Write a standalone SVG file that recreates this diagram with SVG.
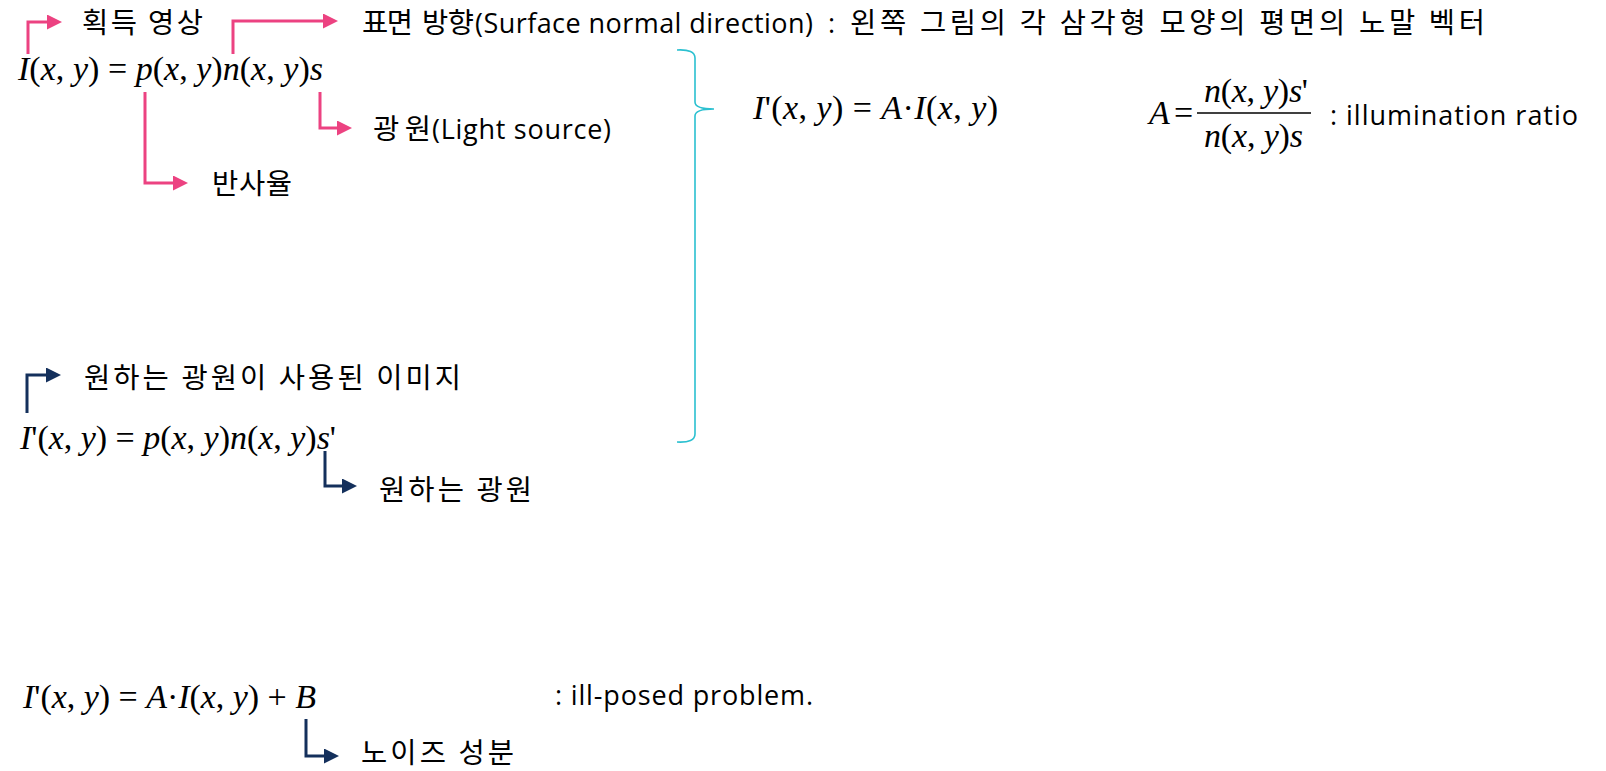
<svg xmlns="http://www.w3.org/2000/svg" width="1606" height="771" viewBox="0 0 1606 771">
<style>
.lbl{font-family:"Open Sans","Noto Sans CJK KR",sans-serif;font-size:27px;fill:#000}
.k{font-family:"Noto Sans CJK KR",sans-serif;font-size:28.5px;fill:#000}
.m{font-family:"Liberation Serif","Times New Roman",serif;font-size:34px;fill:#000}
.i{font-style:italic}
.pk{fill:none;stroke:#EC4281;stroke-width:3}
.nv{fill:none;stroke:#14305C;stroke-width:3}
</style>
<defs>
<marker id="ap" markerUnits="userSpaceOnUse" markerWidth="16" markerHeight="16" refX="2" refY="7.5" orient="auto"><path d="M0,0 L15,7.5 L0,15 z" fill="#EC4281"/></marker>
<marker id="an" markerUnits="userSpaceOnUse" markerWidth="16" markerHeight="16" refX="2" refY="7.5" orient="auto"><path d="M0,0 L15,7.5 L0,15 z" fill="#14305C"/></marker>
</defs>
<rect width="1606" height="771" fill="#fff"/>
<g id="connectors">
<path class="pk" d="M28,54 V22 H49" marker-end="url(#ap)"/>
<path class="pk" d="M233,54 V21 H325" marker-end="url(#ap)"/>
<path class="pk" d="M320,92 V128 H339" marker-end="url(#ap)"/>
<path class="pk" d="M145,92 V183 H175" marker-end="url(#ap)"/>
<path class="nv" d="M27,413 V375 H48" marker-end="url(#an)"/>
<path class="nv" d="M325,451 V486 H344" marker-end="url(#an)"/>
<path class="nv" d="M306,719 V756 H326" marker-end="url(#an)"/>
<path d="M677,50 Q695,49 695,58 V102 Q695,109 714,109 Q695,109 695,116 V434 Q695,443 677,442" fill="none" stroke="#2BC0D0" stroke-width="1.6"/>
</g>
<g id="eq1">
<text class="m" x="18" y="80" textLength="305" lengthAdjust="spacing" font-size="35"><tspan class="i">I</tspan>(<tspan class="i">x</tspan>, <tspan class="i">y</tspan>) = <tspan class="i">p</tspan>(<tspan class="i">x</tspan>, <tspan class="i">y</tspan>)<tspan class="i">n</tspan>(<tspan class="i">x</tspan>, <tspan class="i">y</tspan>)<tspan class="i">s</tspan></text>
</g>
<g id="lbl-acquired"><text class="k" x="82" y="33" textLength="121" lengthAdjust="spacing">획득 영상</text></g>
<g id="lbl-normal">
<text class="k" x="362" y="33" textLength="51" lengthAdjust="spacing" font-size="27">표면</text>
<text class="k" x="422" y="33" textLength="52" lengthAdjust="spacing" font-size="27">방향</text>
<text class="lbl" x="475" y="33" textLength="338" lengthAdjust="spacing">(Surface normal direction)</text>
<text class="lbl" x="828" y="33">:</text>
<text class="k" x="850" y="33" textLength="635" lengthAdjust="spacing">왼쪽 그림의 각 삼각형 모양의 평면의 노말 벡터</text>
</g>
<g id="lbl-light">
<text class="k" x="373" y="139" textLength="58" lengthAdjust="spacing">광원</text>
<text class="lbl" x="432" y="139" textLength="179" lengthAdjust="spacing">(Light source)</text>
</g>
<g id="lbl-reflect"><text class="k" x="212" y="194" textLength="80" lengthAdjust="spacing">반사율</text></g>
<g id="eq2">
<text class="m" x="20" y="449" textLength="316" lengthAdjust="spacing" font-size="35"><tspan class="i">I</tspan>'(<tspan class="i">x</tspan>, <tspan class="i">y</tspan>) = <tspan class="i">p</tspan>(<tspan class="i">x</tspan>, <tspan class="i">y</tspan>)<tspan class="i">n</tspan>(<tspan class="i">x</tspan>, <tspan class="i">y</tspan>)<tspan class="i">s</tspan>'</text>
</g>
<g id="lbl-desired-img"><text class="k" x="84" y="388" textLength="377" lengthAdjust="spacing">원하는 광원이 사용된 이미지</text></g>
<g id="lbl-desired-light"><text class="k" x="379" y="500" textLength="153" lengthAdjust="spacing">원하는 광원</text></g>
<g id="eq3">
<text class="m" x="753" y="119" textLength="245" lengthAdjust="spacing" font-size="33"><tspan class="i">I</tspan>'(<tspan class="i">x</tspan>, <tspan class="i">y</tspan>) = <tspan class="i">A</tspan>·<tspan class="i">I</tspan>(<tspan class="i">x</tspan>, <tspan class="i">y</tspan>)</text>
</g>
<g id="eq4">
<text class="m i" x="1149" y="124" font-size="32">A</text>
<text class="m" x="1174" y="124" font-size="32">=</text>
<text class="m" x="1204" y="102" textLength="104" lengthAdjust="spacing" font-size="31"><tspan class="i">n</tspan>(<tspan class="i">x</tspan>, <tspan class="i">y</tspan>)<tspan class="i">s</tspan>'</text>
<line x1="1197" y1="113" x2="1311" y2="113" stroke="#000" stroke-width="1.3"/>
<text class="m" x="1204" y="147" textLength="99" lengthAdjust="spacing" font-size="31"><tspan class="i">n</tspan>(<tspan class="i">x</tspan>, <tspan class="i">y</tspan>)<tspan class="i">s</tspan></text>
</g>
<g id="lbl-ratio"><text class="lbl" x="1330" y="125" textLength="248" lengthAdjust="spacing">: illumination ratio</text></g>
<g id="eq5">
<text class="m" x="23" y="708" textLength="293" lengthAdjust="spacing" font-size="33"><tspan class="i">I</tspan>'(<tspan class="i">x</tspan>, <tspan class="i">y</tspan>) = <tspan class="i">A</tspan>·<tspan class="i">I</tspan>(<tspan class="i">x</tspan>, <tspan class="i">y</tspan>) + <tspan class="i">B</tspan></text>
</g>
<g id="lbl-illposed"><text class="lbl" x="555" y="705" textLength="258" lengthAdjust="spacing">: ill-posed problem.</text></g>
<g id="lbl-noise"><text class="k" x="361" y="763" textLength="153" lengthAdjust="spacing">노이즈 성분</text></g>
</svg>
